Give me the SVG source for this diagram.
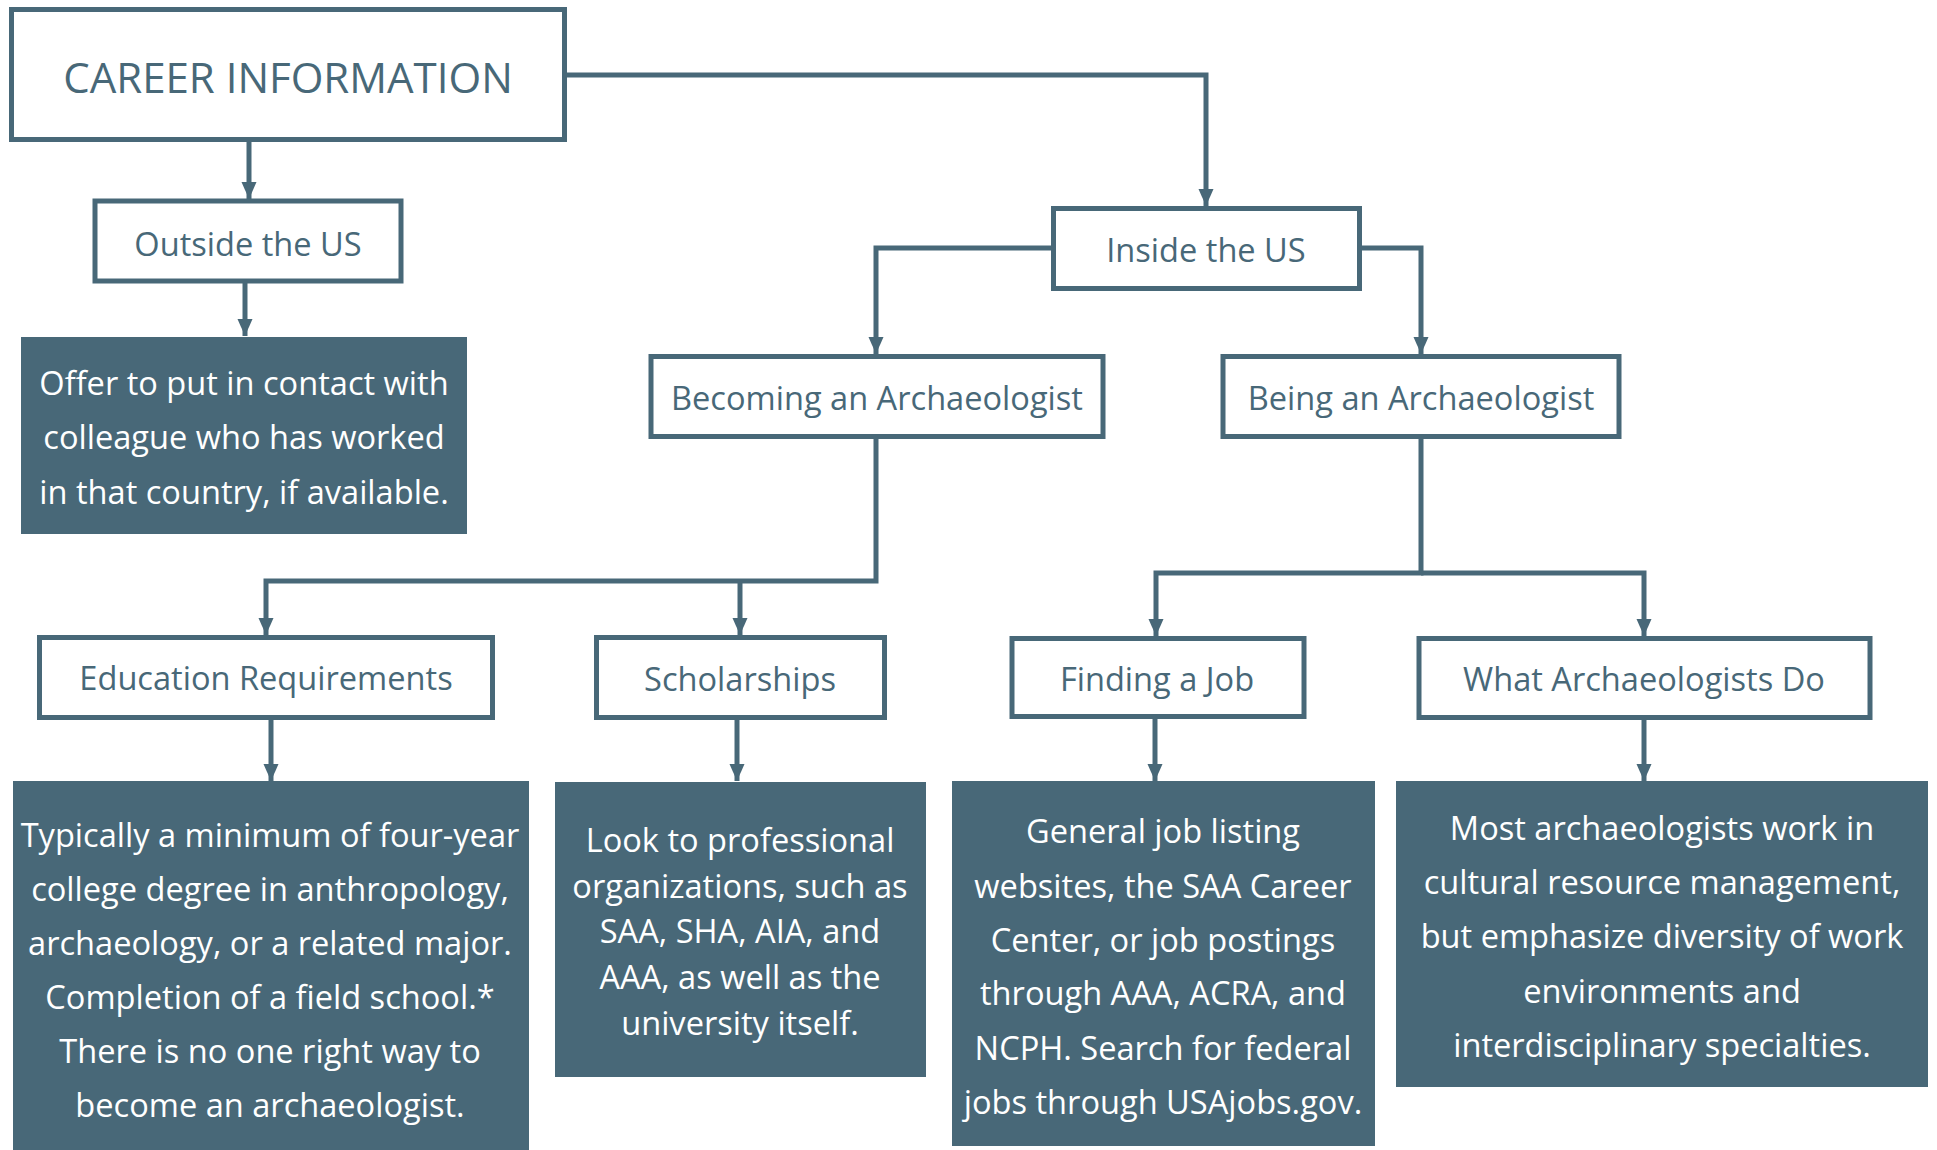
<svg xmlns="http://www.w3.org/2000/svg" width="1937" height="1150" viewBox="0 0 1937 1150">
<defs>
<style>
.box{fill:#ffffff;stroke:#486878;stroke-width:5}
.fill{fill:#486878}
.lbl{font-family:"Open Sans","Noto Sans","Liberation Sans",sans-serif;font-size:32.6px;fill:#486878;text-anchor:middle}
.title{font-size:42px}
.body{font-family:"Open Sans","Noto Sans","Liberation Sans",sans-serif;font-size:32.6px;fill:#ffffff;text-anchor:middle}
.con{fill:none;stroke:#486878;stroke-width:5}
</style>
<marker id="ad" markerUnits="userSpaceOnUse" markerWidth="18" markerHeight="16" refX="17" refY="8" orient="auto" viewBox="0 0 18 16">
<path d="M0,0.5 L17,8 L0,15.5 Z" fill="#486878"/>
</marker>
</defs>
<rect width="1937" height="1150" fill="#ffffff"/>
<g id="connectors">
<path class="con" d="M249,142 V199" marker-end="url(#ad)"/>
<path class="con" d="M567,75 H1206 V206" marker-end="url(#ad)"/>
<path class="con" d="M245,283 V336" marker-end="url(#ad)"/>
<path class="con" d="M1052,248 H876 V354" marker-end="url(#ad)"/>
<path class="con" d="M1361,248 H1421 V354" marker-end="url(#ad)"/>
<path class="con" d="M876,439 V581 H266 V635" marker-end="url(#ad)"/>
<path class="con" d="M740,581 V635" marker-end="url(#ad)"/>
<path class="con" d="M1421,439 V573 H1156 V636" marker-end="url(#ad)"/>
<path class="con" d="M1421,573 H1644 V636" marker-end="url(#ad)"/>
<path class="con" d="M271,719 V781" marker-end="url(#ad)"/>
<path class="con" d="M737,719 V781" marker-end="url(#ad)"/>
<path class="con" d="M1155,717 V781" marker-end="url(#ad)"/>
<path class="con" d="M1644,719 V781" marker-end="url(#ad)"/>
</g>
<g id="career-information">
<rect class="box" x="11.5" y="9.5" width="553" height="130"/>
<text class="lbl title" x="288" y="93">CAREER INFORMATION</text>
</g>
<g id="outside-us">
<rect class="box" x="95" y="201" width="306" height="80"/>
<text class="lbl" x="248" y="256">Outside the US</text>
</g>
<g id="outside-detail">
<rect class="fill" x="21" y="337" width="446" height="197"/>
<text class="body" x="244" y="395">Offer to put in contact with</text>
<text class="body" x="244" y="449">colleague who has worked</text>
<text class="body" x="244" y="504">in that country, if available.</text>
</g>
<g id="inside-us">
<rect class="box" x="1053.5" y="208.5" width="306" height="80"/>
<text class="lbl" x="1206" y="262">Inside the US</text>
</g>
<g id="becoming">
<rect class="box" x="651" y="356.5" width="452" height="80"/>
<text class="lbl" x="877" y="410">Becoming an Archaeologist</text>
</g>
<g id="being">
<rect class="box" x="1223" y="356.5" width="396" height="80"/>
<text class="lbl" x="1421" y="410">Being an Archaeologist</text>
</g>
<g id="education">
<rect class="box" x="39.5" y="637.5" width="453" height="80"/>
<text class="lbl" x="266" y="690">Education Requirements</text>
</g>
<g id="education-detail">
<rect class="fill" x="13" y="781" width="516" height="369"/>
<text class="body" x="270" y="847">Typically a minimum of four-year</text>
<text class="body" x="270" y="901">college degree in anthropology,</text>
<text class="body" x="270" y="955">archaeology, or a related major.</text>
<text class="body" x="270" y="1009">Completion of a field school.*</text>
<text class="body" x="270" y="1063">There is no one right way to</text>
<text class="body" x="270" y="1117">become an archaeologist.</text>
</g>
<g id="scholarships">
<rect class="box" x="596.5" y="637.5" width="288" height="80"/>
<text class="lbl" x="740" y="691">Scholarships</text>
</g>
<g id="scholarships-detail">
<rect class="fill" x="555" y="782" width="371" height="295"/>
<text class="body" x="740" y="852">Look to professional</text>
<text class="body" x="740" y="898">organizations, such as</text>
<text class="body" x="740" y="943">SAA, SHA, AIA, and</text>
<text class="body" x="740" y="989">AAA, as well as the</text>
<text class="body" x="740" y="1035">university itself.</text>
</g>
<g id="finding-job">
<rect class="box" x="1012" y="638.5" width="292" height="78"/>
<text class="lbl" x="1157" y="691">Finding a Job</text>
</g>
<g id="finding-detail">
<rect class="fill" x="952" y="781" width="423" height="365"/>
<text class="body" x="1163" y="843">General job listing</text>
<text class="body" x="1163" y="898">websites, the SAA Career</text>
<text class="body" x="1163" y="952">Center, or job postings</text>
<text class="body" x="1163" y="1005">through AAA, ACRA, and</text>
<text class="body" x="1163" y="1060">NCPH. Search for federal</text>
<text class="body" x="1163" y="1114">jobs through USAjobs.gov.</text>
</g>
<g id="what-do">
<rect class="box" x="1419" y="638.5" width="451" height="79"/>
<text class="lbl" x="1644" y="691">What Archaeologists Do</text>
</g>
<g id="what-detail">
<rect class="fill" x="1396" y="781" width="532" height="306"/>
<text class="body" x="1662" y="840">Most archaeologists work in</text>
<text class="body" x="1662" y="894">cultural resource management,</text>
<text class="body" x="1662" y="948">but emphasize diversity of work</text>
<text class="body" x="1662" y="1003">environments and</text>
<text class="body" x="1662" y="1057">interdisciplinary specialties.</text>
</g>
</svg>
